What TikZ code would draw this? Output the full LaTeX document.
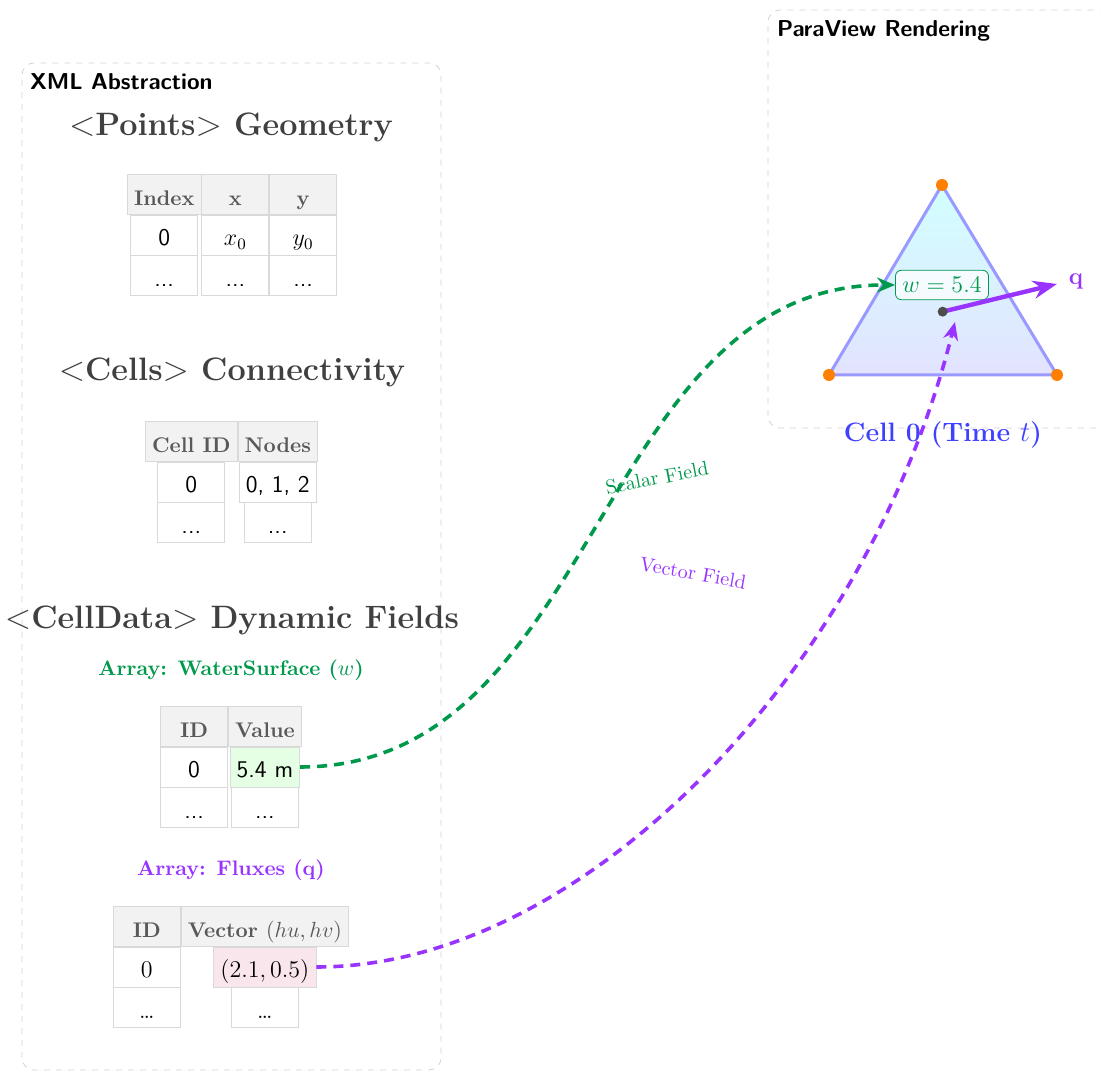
\documentclass[tikz,border=0pt]{standalone}
\usepackage{amsmath,amssymb}
\usepackage{tikz}
\usetikzlibrary{arrows.meta,positioning,matrix,calc}
\definecolor{cG}{RGB}{0,153,76}
\definecolor{cP}{RGB}{153,51,255}
\tikzset{
  grp/.style={draw=gray!35, dashed, rounded corners=6pt},
  grpt/.style={font=\fontsize{11.5}{14}\selectfont\sffamily\bfseries, anchor=north west},
  hdg/.style={font=\fontsize{16.2}{19}\selectfont\bfseries, text=black!75},
  tbl/.style={matrix of nodes, row sep=0pt, column sep=0pt,
    nodes={draw=gray!30, minimum width=33.5pt, minimum height=20pt, anchor=center, font=\large\sffamily,
      inner ysep=1.5pt, text height=13pt, text depth=2pt},
    row 1/.style={nodes={fill=gray!10, font=\fontsize{10.6}{12}\selectfont\bfseries, text=black!65}}},
  arrt/.style={font=\fontsize{10.5}{12}\selectfont\bfseries},
  tri/.style={draw=blue!40, line width=1.5pt, line join=round, top color=cyan!18, bottom color=blue!11},
  wbox/.style={draw=cG, rounded corners=3pt, fill=white, fill opacity=.75, text opacity=1, text=cG, font=\large, inner sep=3.5pt},
  qarr/.style={draw=cP, line width=2.2pt, -{Stealth[length=12pt, width=9pt]}},
  fld/.style={line width=1.8pt, dash pattern=on 5pt off 3.5pt, -{Stealth[length=9pt, width=7.5pt]}},
  flbl/.style={font=\normalsize},
  celllbl/.style={font=\fontsize{13.3}{15}\selectfont\bfseries, text=blue!75}
}

\begin{document}
\begin{tikzpicture}[x=0.5pt, y=0.5pt]
  \useasboundingbox (0,0) rectangle (1100,1075);
  \draw[grp] (22,5) rectangle (441,1012);
  \draw[grp] (768,647) rectangle (1140,1065);
  \node[grpt] (xmlt) at (23,1009) {XML Abstraction};
  \node[grpt] (pvt) at (770,1062) {ParaView Rendering};

  \node[hdg] (pts) at (231,948) {$<$Points$>$ Geometry};
  \matrix[tbl] (ptab) at (232,840) {
    Index & x & y \\
    0 & $x_0$ & $y_0$ \\
    ... & ... & ... \\
  };

  \node[hdg] (cls) at (232,703) {$<$Cells$>$ Connectivity};
  \matrix[tbl] (ctab) at (231.5,593) {
    Cell ID & Nodes \\
    0 & 0, 1, 2 \\
    ... & ... \\
  };

  \node[hdg] (cdat) at (232,455) {$<$CellData$>$ Dynamic Fields};
  \node[arrt, text=cG] (wlbl) at (231,405) {Array: WaterSurface ($w$)};
  \matrix[tbl] (wtab) at (231,308) {
    ID & Value \\
    0 & |[fill=green!10]| 5.4 m \\
    ... & ... \\
  };
  \node[arrt, text=cP] (qlbl) at (231,205) {Array: Fluxes (q)};
  \matrix[tbl, nodes={font=\large}] (qtab) at (231,108) {
    ID & Vector $(hu,hv)$ \\
    0 & |[fill=purple!10]| $(2.1,0.5)$ \\
    \dots & \dots \\
  };

  \coordinate (a) at (942,890);
  \coordinate (b) at (829,700);
  \coordinate (c) at (1057,700);
  \coordinate (ctr) at (barycentric cs:a=1,b=1,c=1);
  \shadedraw[tri] (a) -- (b) -- (c) -- cycle;
  \foreach \p in {a,b,c} \fill[orange] (\p) circle (3pt);
  \node[wbox] (wval) at (942,790) {$w=5.4$};
  \coordinate (qtip) at (1057,791);
  \draw[qarr] (ctr) -- (qtip);
  \fill[black!70] (ctr) circle (2.5pt);
  \node[text=cP, font=\large\bfseries] (qname) at (1076,794) {q};
  \node[celllbl] (cell) at (943,640) {Cell 0 (Time $t$)};

  \coordinate (qin) at (955,753);
  \draw[fld, cG] (wtab-2-2.east) to[out=0, in=180] (wval.west);
  \draw[fld, cP] (qtab-2-2.east) to[out=0, in=-104, out looseness=0.76] (qin);
  \node[flbl, text=cG, rotate=11] (sfl) at (657,597) {Scalar Field};
  \node[flbl, text=cP, rotate=-10] (vfl) at (693,502) {Vector Field};
\end{tikzpicture}
\end{document}
